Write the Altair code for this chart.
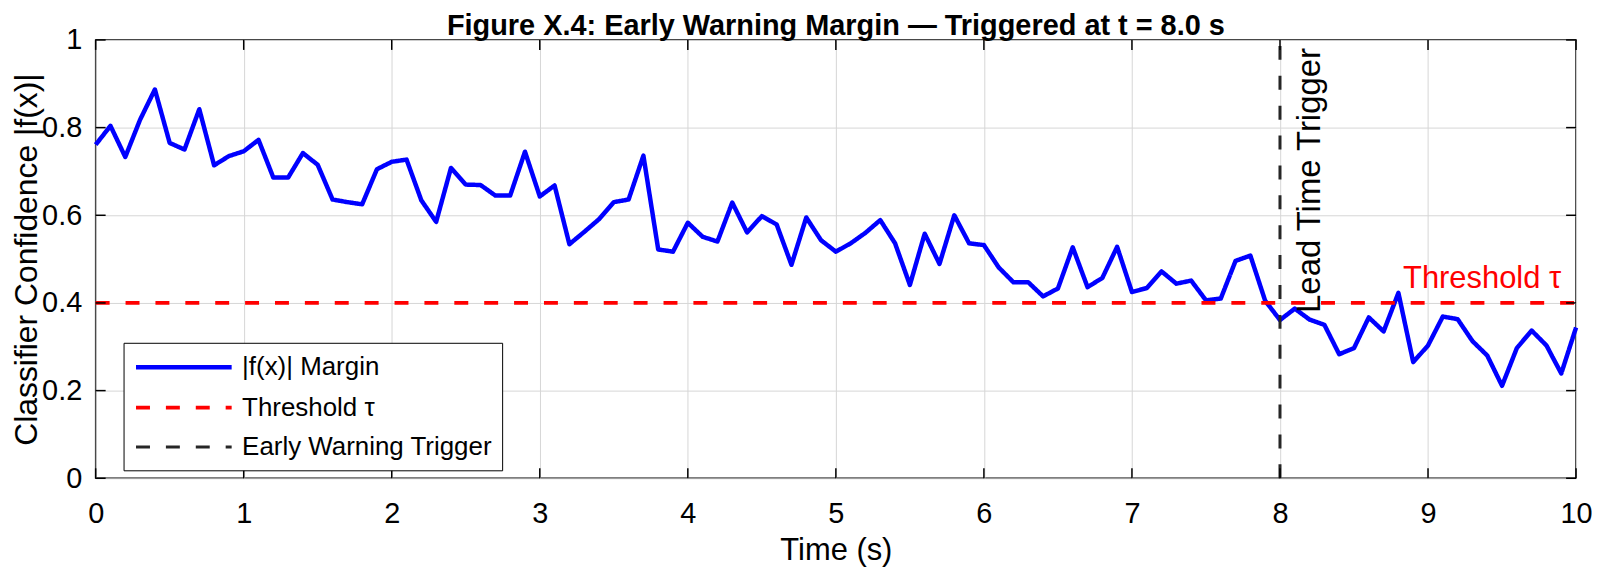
import altair as alt
import pandas as pd

# ---- data ----
time_s = [round(0.1 * i, 1) for i in range(101)]
margin = [
    0.761, 0.804, 0.733, 0.818, 0.887, 0.765, 0.750, 0.842, 0.714, 0.735,
    0.746, 0.772, 0.686, 0.686, 0.742, 0.715, 0.636, 0.630, 0.625, 0.705,
    0.722, 0.727, 0.634, 0.585, 0.708, 0.670, 0.669, 0.645, 0.645, 0.745,
    0.643, 0.668, 0.534, 0.562, 0.591, 0.630, 0.636, 0.736, 0.522, 0.517,
    0.583, 0.551, 0.540, 0.629, 0.561, 0.598, 0.579, 0.487, 0.595, 0.543,
    0.517, 0.536, 0.560, 0.589, 0.536, 0.441, 0.558, 0.489, 0.600, 0.536,
    0.532, 0.481, 0.447, 0.447, 0.415, 0.433, 0.527, 0.436, 0.457, 0.528,
    0.425, 0.434, 0.472, 0.444, 0.451, 0.406, 0.410, 0.496, 0.508, 0.405,
    0.361, 0.387, 0.362, 0.350, 0.283, 0.297, 0.367, 0.335, 0.423, 0.265,
    0.303, 0.369, 0.363, 0.313, 0.280, 0.211, 0.297, 0.337, 0.303, 0.239,
    0.344,
]
threshold = 0.4
trigger_t = 8.0
x_ticks = [0, 1, 2, 3, 4, 5, 6, 7, 8, 9, 10]
y_ticks = [0, 0.2, 0.4, 0.6, 0.8, 1]
series_names = ["|f(x)| Margin", "Threshold τ", "Early Warning Trigger"]
series_colors = ["#0000ff", "#ff0000", "#262626"]
series_dash = [[1, 0], [14, 16], [14, 16]]
series_width = [4.5, 3, 3]
title_text = "Figure X.4: Early Warning Margin — Triggered at t = 8.0 s"

FONT = "Liberation Sans"
W, H = 1486, 440

line_df = pd.DataFrame({"t": time_s, "v": margin, "series": series_names[0]})
thr_df = pd.DataFrame({"t": [x_ticks[0], x_ticks[-1]], "v": [threshold, threshold],
                       "series": series_names[1]})
trg_df = pd.DataFrame({"t": [trigger_t, trigger_t], "v": [y_ticks[0], y_ticks[-1]],
                       "series": series_names[2], "o": [0, 1]})

xscale = alt.Scale(domain=[0, 10], nice=False, zero=False)
yscale = alt.Scale(domain=[0, 1], nice=False)

color = alt.Color("series:N", scale=alt.Scale(domain=series_names, range=series_colors),
                  legend=alt.Legend(title=None))
dash = alt.StrokeDash("series:N", scale=alt.Scale(domain=series_names, range=series_dash),
                      legend=alt.Legend(title=None))
swidth = alt.StrokeWidth("series:N", scale=alt.Scale(domain=series_names, range=series_width),
                         legend=alt.Legend(title=None))

xaxis = alt.Axis(values=x_ticks, title="Time (s)", format="d", labelFlush=False,
                 labelOverlap=False, ticks=False, domain=False, labelPadding=21,
                 titleBaseline="alphabetic", titleY=82, titleX=W / 2, titleAlign="center")
yaxis = alt.Axis(values=y_ticks, title="Classifier Confidence |f(x)|", format=".1~f",
                 labelFlush=False, labelOverlap=False, ticks=False, domain=False,
                 labelPadding=14, titleAngle=270, titleBaseline="alphabetic",
                 titleX=-59, titleY=H / 2, titleAlign="center", titleFontSize=32)

enc_common = dict(color=color, strokeDash=dash, strokeWidth=swidth)

blue = alt.Chart(line_df).mark_line(strokeJoin="round").encode(
    x=alt.X("t:Q", scale=xscale, axis=xaxis), y=alt.Y("v:Q", scale=yscale, axis=yaxis),
    **enc_common)
red = alt.Chart(thr_df).mark_line().encode(
    x=alt.X("t:Q", scale=xscale), y=alt.Y("v:Q", scale=yscale), **enc_common)
black = alt.Chart(trg_df).mark_line().encode(
    x=alt.X("t:Q", scale=xscale), y=alt.Y("v:Q", scale=yscale), order="o:Q", **enc_common)

# inward ticks
xt = pd.DataFrame({"t": x_ticks})
yt = pd.DataFrame({"v": y_ticks})
tick_style = dict(color="black", strokeWidth=1.5)
xb = alt.Chart(xt).mark_rule(**tick_style).encode(
    x=alt.X("t:Q", scale=xscale), y=alt.value(H), y2=alt.value(H - 10))
xtp = alt.Chart(xt).mark_rule(**tick_style).encode(
    x=alt.X("t:Q", scale=xscale), y=alt.value(0), y2=alt.value(10))
yl = alt.Chart(yt).mark_rule(**tick_style).encode(
    y=alt.Y("v:Q", scale=yscale), x=alt.value(0), x2=alt.value(10))
yr = alt.Chart(yt).mark_rule(**tick_style).encode(
    y=alt.Y("v:Q", scale=yscale), x=alt.value(W), x2=alt.value(W - 10))

ann_df = pd.DataFrame({"t": [x_ticks[-1]], "v": [threshold], "label": [series_names[1]]})
thr_text = alt.Chart(ann_df).mark_text(
    align="right", baseline="alphabetic", dx=-15, dy=-15, fontSize=31, font=FONT,
    color="#ff0000").encode(x=alt.X("t:Q", scale=xscale), y=alt.Y("v:Q", scale=yscale),
                            text="label:N")
lead_df = pd.DataFrame({"t": [trigger_t], "v": [threshold], "label": ["Lead Time Trigger"]})
lead_text = alt.Chart(lead_df).mark_text(
    align="left", baseline="alphabetic", angle=270, dx=-10, dy=40, fontSize=33, font=FONT,
    color="black").encode(x=alt.X("t:Q", scale=xscale), y=alt.Y("v:Q", scale=yscale),
                          text="label:N")

# chart title as a text above the frame
title_df = pd.DataFrame({"label": [title_text]})
title_mark = alt.Chart(title_df).mark_text(
    align="center", baseline="alphabetic", fontSize=29, font=FONT, fontWeight="bold",
    color="black").encode(x=alt.value(W / 2), y=alt.value(-4.5), text="label:N")

chart = alt.layer(blue, red, black, xb, xtp, yl, yr, thr_text, lead_text,
                  title_mark).properties(
    width=W, height=H,
    autosize=alt.AutoSizeParams(type="none"),
    padding={"left": 88, "top": 31, "right": 16, "bottom": 89},
).configure_view(stroke="black", strokeWidth=1.5).configure_axis(
    labelFont=FONT, titleFont=FONT, labelFontSize=29, titleFontSize=31,
    titleFontWeight="normal", labelColor="black", titleColor="black",
    gridColor="#d6d6d6", gridWidth=1,
).configure_legend(
    orient="none", legendX=28, legendY=304, padding=10, strokeColor="black",
    fillColor="white", labelFont=FONT, labelFontSize=26, labelColor="black",
    symbolType="M-1,0H7", symbolSize=576, rowPadding=13, labelOffset=80,
    cornerRadius=0, labelLimit=400,
)

chart.save("out.html", embed_options={"renderer": "svg", "actions": False})
